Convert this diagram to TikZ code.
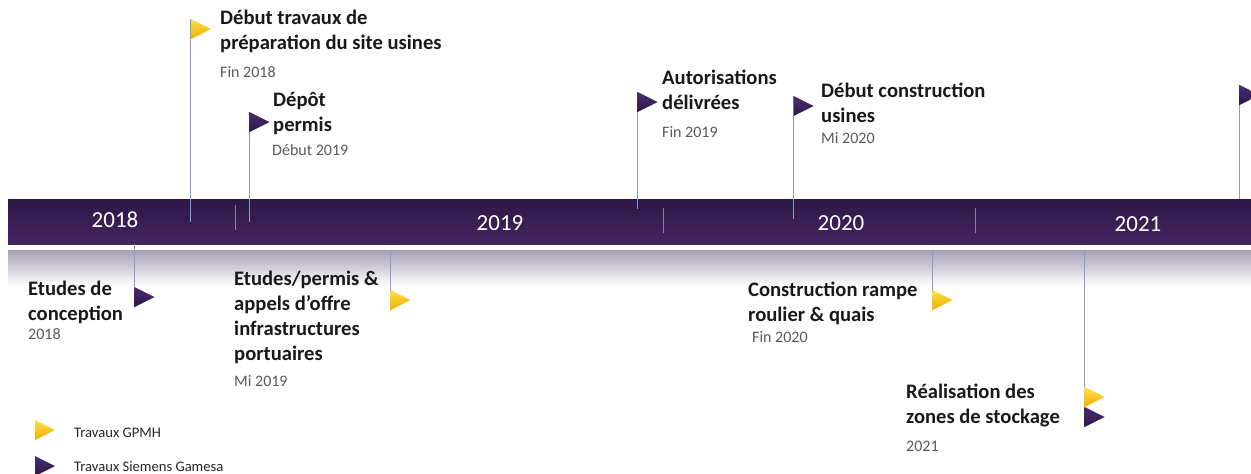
\documentclass[tikz,border=0pt]{standalone}
\usepackage{fontspec}
\setmainfont{Carlito}
\begin{document}
\begin{tikzpicture}[x=1pt,y=-1pt,
  title/.style={anchor=base west,inner sep=0pt,align=left,font=\fontsize{20.6}{25}\selectfont\bfseries,text=black!90},
  datetxt/.style={anchor=base west,inner sep=0pt,font=\fontsize{16}{19}\selectfont,text=black!65},
  yeartxt/.style={anchor=center,inner sep=0pt,font=\fontsize{23}{27}\selectfont,text=white},
  legtxt/.style={anchor=base west,inner sep=0pt,font=\fontsize{14.6}{17}\selectfont,text=black!85},
  pole/.style={draw=poleblue,line width=0.9pt},
  sep/.style={draw=seppurple,line width=0.8pt},
  yflag/.pic={\shade[top color=yelA,bottom color=yelB,draw=none] (0,0)--(0,20)--(20,10)--cycle;},
  pflag/.pic={\shade[top color=purA,bottom color=purB,draw=none] (0,0)--(0,20)--(20,10)--cycle;}
]
\definecolor{poleblue}{HTML}{8A9FC0}
\definecolor{seppurple}{HTML}{8C7AA6}
\definecolor{barA}{HTML}{2C1746}
\definecolor{barB}{HTML}{45255F}
\definecolor{reflA}{HTML}{A79FB5}
\definecolor{yelA}{HTML}{FFE04A}
\definecolor{yelB}{HTML}{EFAE00}
\definecolor{purA}{HTML}{4A2C70}
\definecolor{purB}{HTML}{2C1848}
\useasboundingbox (0,0) rectangle (1251,474);
% bar and reflection
\shade[top color=barA,bottom color=barB] (8,199) rectangle (1251,244);
\shade[top color=reflA,bottom color=white] (8,250) rectangle (1251,286);
% separators
\draw[sep] (235,205) -- (235,230);
\draw[sep] (663,208) -- (663,233);
\draw[sep] (975,208) -- (975,233);
% years
\node[yeartxt] (y18) at (115,220) {2018};
\node[yeartxt] (y19) at (500,223) {2019};
\node[yeartxt] (y20) at (841,223) {2020};
\node[yeartxt] (y21) at (1138,224) {2021};
% pole coordinates
\coordinate (t1) at (190,19);  \coordinate (b1) at (190,222);
\coordinate (t2) at (249,112); \coordinate (b2) at (249,222);
\coordinate (t3) at (637,92);  \coordinate (b3) at (637,209);
\coordinate (t4) at (793,96);  \coordinate (b4) at (793,219);
\coordinate (t5) at (1239,85); \coordinate (b5) at (1239,199);
\coordinate (t6) at (134,244); \coordinate (b6) at (134,307);
\coordinate (t7) at (390,250); \coordinate (b7) at (390,310);
\coordinate (t8) at (932,250); \coordinate (b8) at (932,310);
\coordinate (t9) at (1084,250); \coordinate (b9) at (1084,427);
\foreach \i in {1,...,9} {\draw[pole] (t\i) -- (b\i);}
% flags
\pic at (191,19) {yflag};
\pic at (249.5,112) {pflag};
\pic at (637.5,92) {pflag};
\pic at (793.5,96) {pflag};
\pic at (1239.5,85) {pflag};
\pic at (134.5,287) {pflag};
\pic at (390.5,290) {yflag};
\pic at (932.5,290) {yflag};
\pic at (1084.5,387) {yflag};
\pic at (1084.5,407) {pflag};
% top texts (anchor = baseline of last line)
\node[title] (n1) at (220,49) {Début travaux de\\préparation du site usines};
\node[datetxt] (d1) at (220,77) {Fin 2018};
\node[title] (n2) at (273,131) {Dépôt\\permis};
\node[datetxt] (d2) at (272,155) {Début 2019};
\node[title] (n3) at (662,109) {Autorisations\\délivrées};
\node[datetxt] (d3) at (662,137) {Fin 2019};
\node[title] (n4) at (821,122) {Début construction\\usines};
\node[datetxt] (d4) at (821,143) {Mi 2020};
% bottom texts
\node[title] (n5) at (28,320) {Etudes de\\conception};
\node[datetxt] (d5) at (28,339) {2018};
\node[title] (n6) at (234,360) {Etudes/permis \&\\appels d’offre\\infrastructures\\portuaires};
\node[datetxt] (d6) at (234,386) {Mi 2019};
\node[title] (n7) at (748,321) {Construction rampe\\roulier \& quais};
\node[datetxt] (d7) at (752,342) {Fin 2020};
\node[title] (n8) at (906,423) {Réalisation des\\zones de stockage};
\node[datetxt] (d8) at (906,451) {2021};
% legend
\pic at (35,420) {yflag};
\node[legtxt] (l1) at (74,437) {Travaux GPMH};
\pic at (35,456) {pflag};
\node[legtxt] (l2) at (74,471) {Travaux Siemens Gamesa};
\end{tikzpicture}
\end{document}
